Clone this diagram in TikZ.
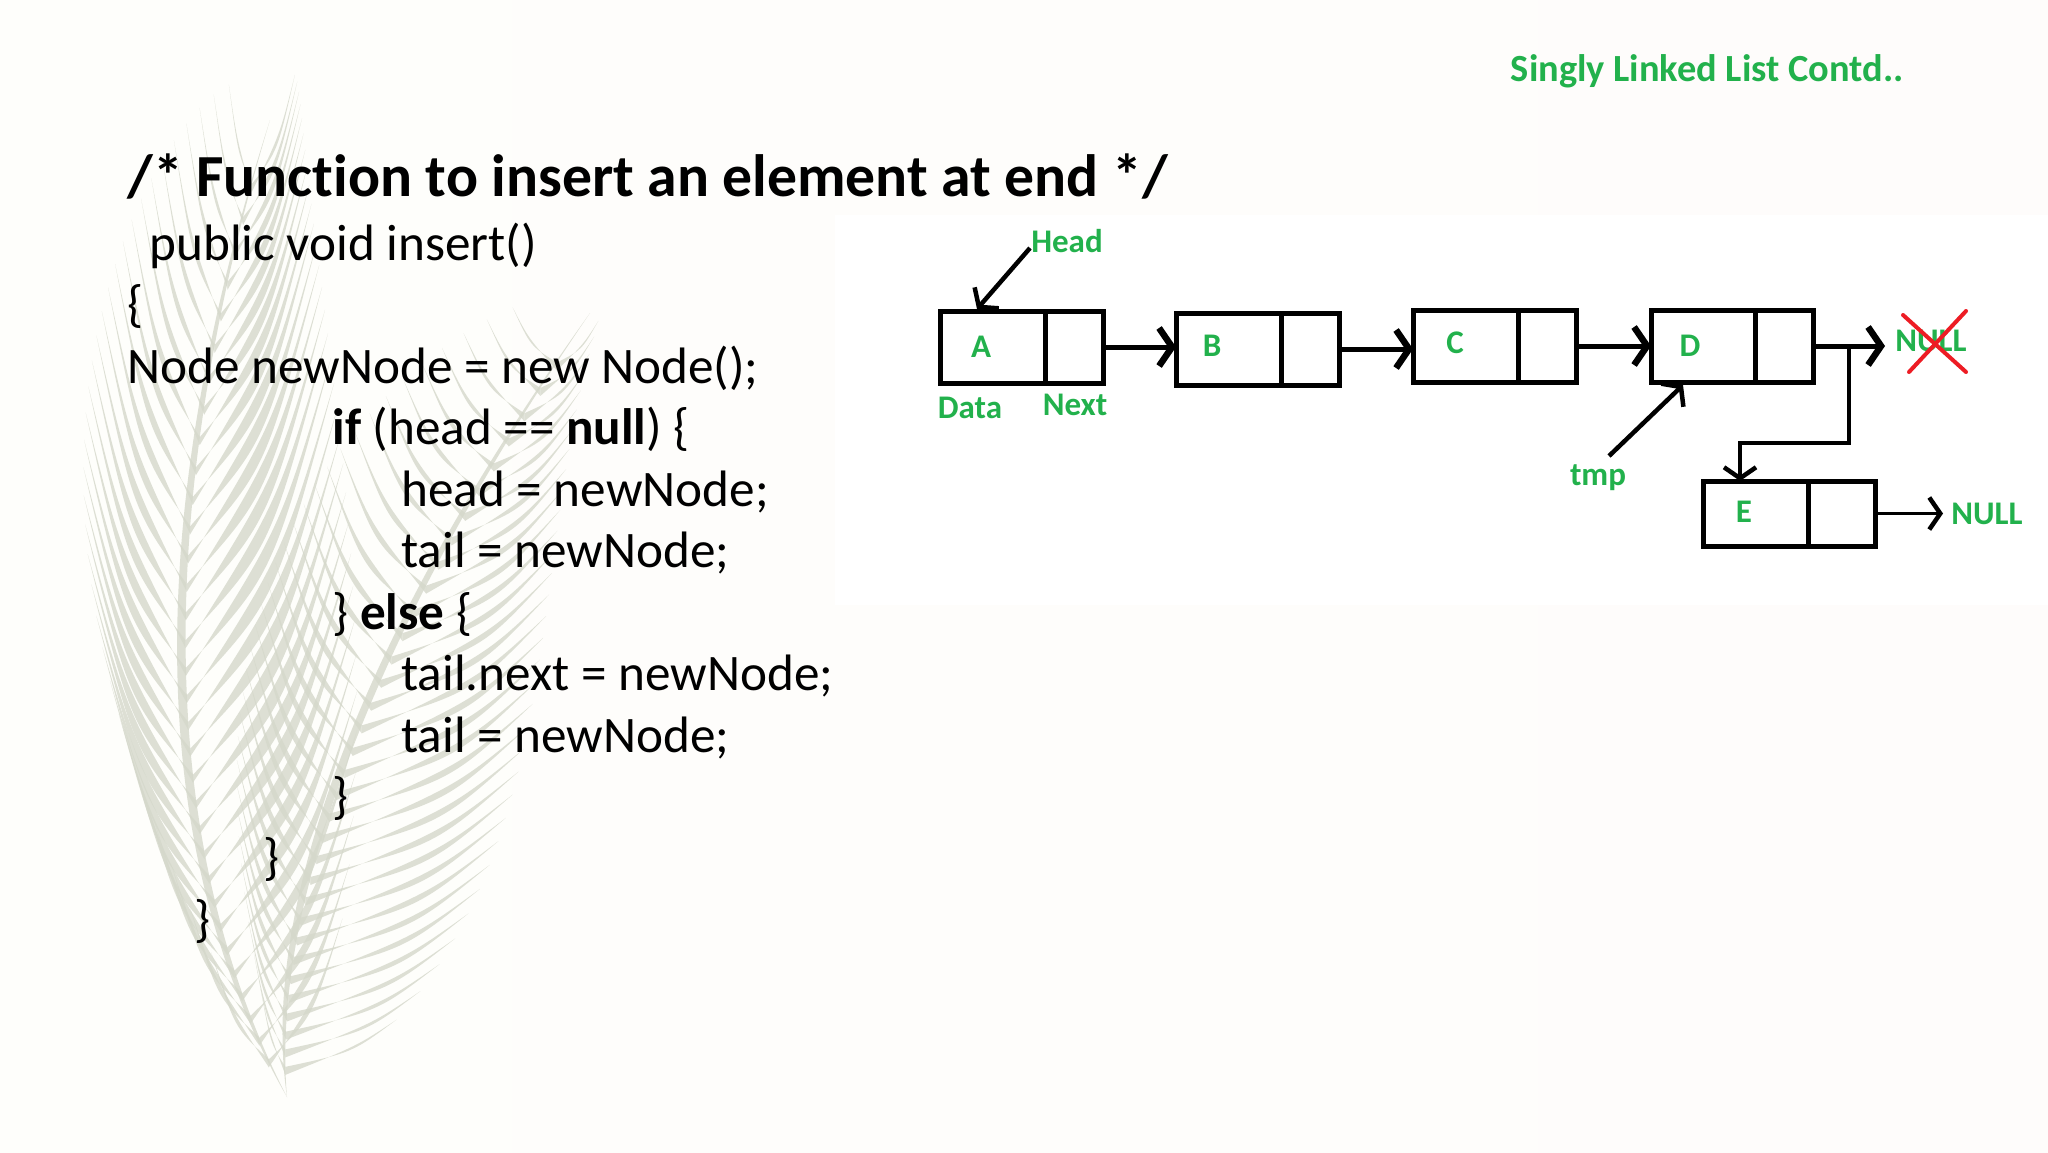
\documentclass[tikz,border=0pt]{standalone}
\usepackage{fontspec}
\setmainfont[Ligatures=CommonOff]{Carlito}
\usetikzlibrary{arrows.meta}
\definecolor{bgleft}{HTML}{FEFEFB}
\definecolor{bgright}{HTML}{FEFCFB}
\definecolor{listgreen}{HTML}{22B14C}
\definecolor{crossred}{HTML}{ED1C24}
\definecolor{barbcolor}{HTML}{D5D8CB}
\def\px{0.5pt}
\tikzset{
  cell/.style={draw,line width=5*\px,inner sep=0pt,outer sep=0pt,anchor=north west},
  link/.style={line width=5*\px,-{Straight Barb[length=13*\px,width=38*\px,line width=6.5*\px]}},
  thinlink/.style={line width=4*\px,-{Straight Barb[length=11*\px,width=32*\px,line width=4.5*\px]}},
  pointer/.style={line width=4.5*\px,-{Straight Barb[length=12*\px,width=32*\px,line width=4.5*\px]}},
  greenlabel/.style={text=listgreen,font=\fontsize{16.5}{19}\selectfont\bfseries,inner sep=0pt},
  codeline/.style={anchor=base west,inner sep=0pt,font=\fontsize{25.6}{30}\selectfont},
  barb/.style={fill=barbcolor,opacity=.8}
}
% one side of a feather: rachis #1, vector at the quill #2,#3, vector at the top #4,#5
\newcommand{\featherbarbs}[5]{
  \foreach \t in {.05,.078,...,.97}{
    \path (#10) .. controls (#11) and (#12) .. (#13) coordinate[pos=\t] (fp);
    \pgfmathsetmacro{\s}{sin(180*\t)^.5}
    \pgfmathsetmacro{\dx}{\s*(#2+(#4-(#2))*\t)}
    \pgfmathsetmacro{\dy}{\s*(#3+(#5-(#3))*\t)}
    \fill[barb] (fp) .. controls +({.6*\dx},{.3*\dy}) .. ++(\dx,\dy)
      .. controls +({-.35*\dx},{-.55*\dy}) .. ++({-\dx},{-\dy+8});
  }
}
\begin{document}
\begin{tikzpicture}[x=0.5pt,y=-0.5pt]
  \useasboundingbox (0,0) rectangle (2048,1152);
  \fill[left color=bgleft,right color=bgright] (0,0) rectangle (2048,1152);
  \fill[white] (835,215) rectangle (2048,605);

  % feather behind the code
  \coordinate (fa0) at (287,1097);
  \coordinate (fa1) at (160,850);
  \coordinate (fa2) at (150,520);
  \coordinate (fa3) at (270,120);
  \coordinate (fb0) at (287,1097);
  \coordinate (fb1) at (270,900);
  \coordinate (fb2) at (380,620);
  \coordinate (fb3) at (590,313);
  \fill[barb] (fa0) .. controls (fa1) and (fa2) .. (fa3)
    .. controls (142,520) and (145,850) .. (fa0);
  \fill[barb] (fb0) .. controls (fb1) and (fb2) .. (fb3)
    .. controls (370,620) and (258,900) .. (fb0);
  \featherbarbs{fa}{-150}{-270}{-50}{-240}
  \featherbarbs{fa}{190}{-360}{100}{-260}
  \featherbarbs{fb}{-60}{-200}{-110}{-130}
  \featherbarbs{fb}{290}{-120}{90}{-100}

  % code
  \node[anchor=east,font=\fontsize{19.2}{23}\selectfont\bfseries,inner sep=0pt,text=listgreen] (slide) at (1904,71) {Singly Linked List Contd..};
  \node[codeline,font=\fontsize{29.85}{34}\selectfont\bfseries] (title) at (127,196) {/* Function to insert an element at end */};
  \node[codeline] (l1) at (149,260) {public void insert()};
  \node[codeline] (l2) at (127,321) {\{};
  \node[codeline] (l3) at (127,383) {Node newNode = new Node();};
  \node[codeline] (l4) at (332,444) {\textbf{if} (head == \textbf{null}) \{};
  \node[codeline] (l5) at (401,506) {head = newNode;};
  \node[codeline] (l6) at (401,567) {tail = newNode;};
  \node[codeline] (l7) at (332,629) {\} \textbf{else} \{};
  \node[codeline] (l8) at (401,690) {tail.next = newNode;};
  \node[codeline] (l9) at (401,752) {tail = newNode;};
  \node[codeline] (l10) at (332,813) {\}};
  \node[codeline] (l11) at (263,874) {\}};
  \node[codeline] (l12) at (194,936) {\}};

  % list
  \node[cell,minimum width=105*\px,minimum height=72*\px] (adata) at (940,311) {};
  \node[cell,minimum width=58*\px,minimum height=72*\px] (anext) at (1045,311) {};
  \node[cell,minimum width=105*\px,minimum height=72*\px] (bdata) at (1176,313) {};
  \node[cell,minimum width=58*\px,minimum height=72*\px] (bnext) at (1281,313) {};
  \node[cell,minimum width=105*\px,minimum height=72*\px] (cdata) at (1413,310) {};
  \node[cell,minimum width=58*\px,minimum height=72*\px] (cnext) at (1518,310) {};
  \node[cell,minimum width=104*\px,minimum height=72*\px] (ddata) at (1651,310) {};
  \node[cell,minimum width=58*\px,minimum height=72*\px] (dnext) at (1755,310) {};
  \node[cell,minimum width=105*\px,minimum height=65*\px] (edata) at (1703,481) {};
  \node[cell,minimum width=67*\px,minimum height=65*\px] (enext) at (1808,481) {};

  \node[greenlabel] (a) at (981,347) {A};
  \node[greenlabel] (b) at (1212,346) {B};
  \node[greenlabel] (c) at (1455,343) {C};
  \node[greenlabel] (d) at (1690,346) {D};
  \node[greenlabel] (e) at (1744,512) {E};
  \node[greenlabel] (head) at (1067,241) {Head};
  \node[greenlabel] (data) at (970,408) {Data};
  \node[greenlabel] (next) at (1075,405) {Next};
  \node[greenlabel] (tmp) at (1598,478) {tmp};
  \node[greenlabel] (null1) at (1931,341) {NULL};
  \node[greenlabel] (null2) at (1987,514) {NULL};

  \coordinate (headtail) at (1030,248);
  \coordinate (headtip) at (977,309);
  \coordinate (tmptail) at (1609,456);
  \coordinate (tmptip) at (1683,385);
  \coordinate (dend) at (1885,345);
  \coordinate (fork) at (1849,345);
  \coordinate (elbow1) at (1849,443);
  \coordinate (elbow2) at (1740,443);
  \coordinate (eend) at (1943,516);

  \draw[pointer] (headtail) -- (headtip);
  \draw[pointer] (tmptail) -- (tmptip);
  \draw[link] (anext.east) -- (anext.east -| bdata.west);
  \draw[link] (bnext.east) -- (bnext.east -| cdata.west);
  \draw[link] (cnext.east) -- (cnext.east -| ddata.west);
  \draw[link] (dnext.east) -- (dnext.east -| dend);
  \draw[thinlink] (fork) -- (elbow1) -- (elbow2) -- (elbow2 |- edata.north);
  \draw[thinlink,line width=3.5*\px] (enext.east) -- (enext.east -| eend);

  % NULL crossed out
  \coordinate (cross1) at (1903,315);
  \coordinate (cross2) at (1966,372);
  \coordinate (cross3) at (1909,372);
  \coordinate (cross4) at (1966,311);
  \draw[crossred,line width=4*\px,line cap=round] (cross1) -- (cross2);
  \draw[crossred,line width=4*\px,line cap=round] (cross3) -- (cross4);
\end{tikzpicture}
\end{document}
